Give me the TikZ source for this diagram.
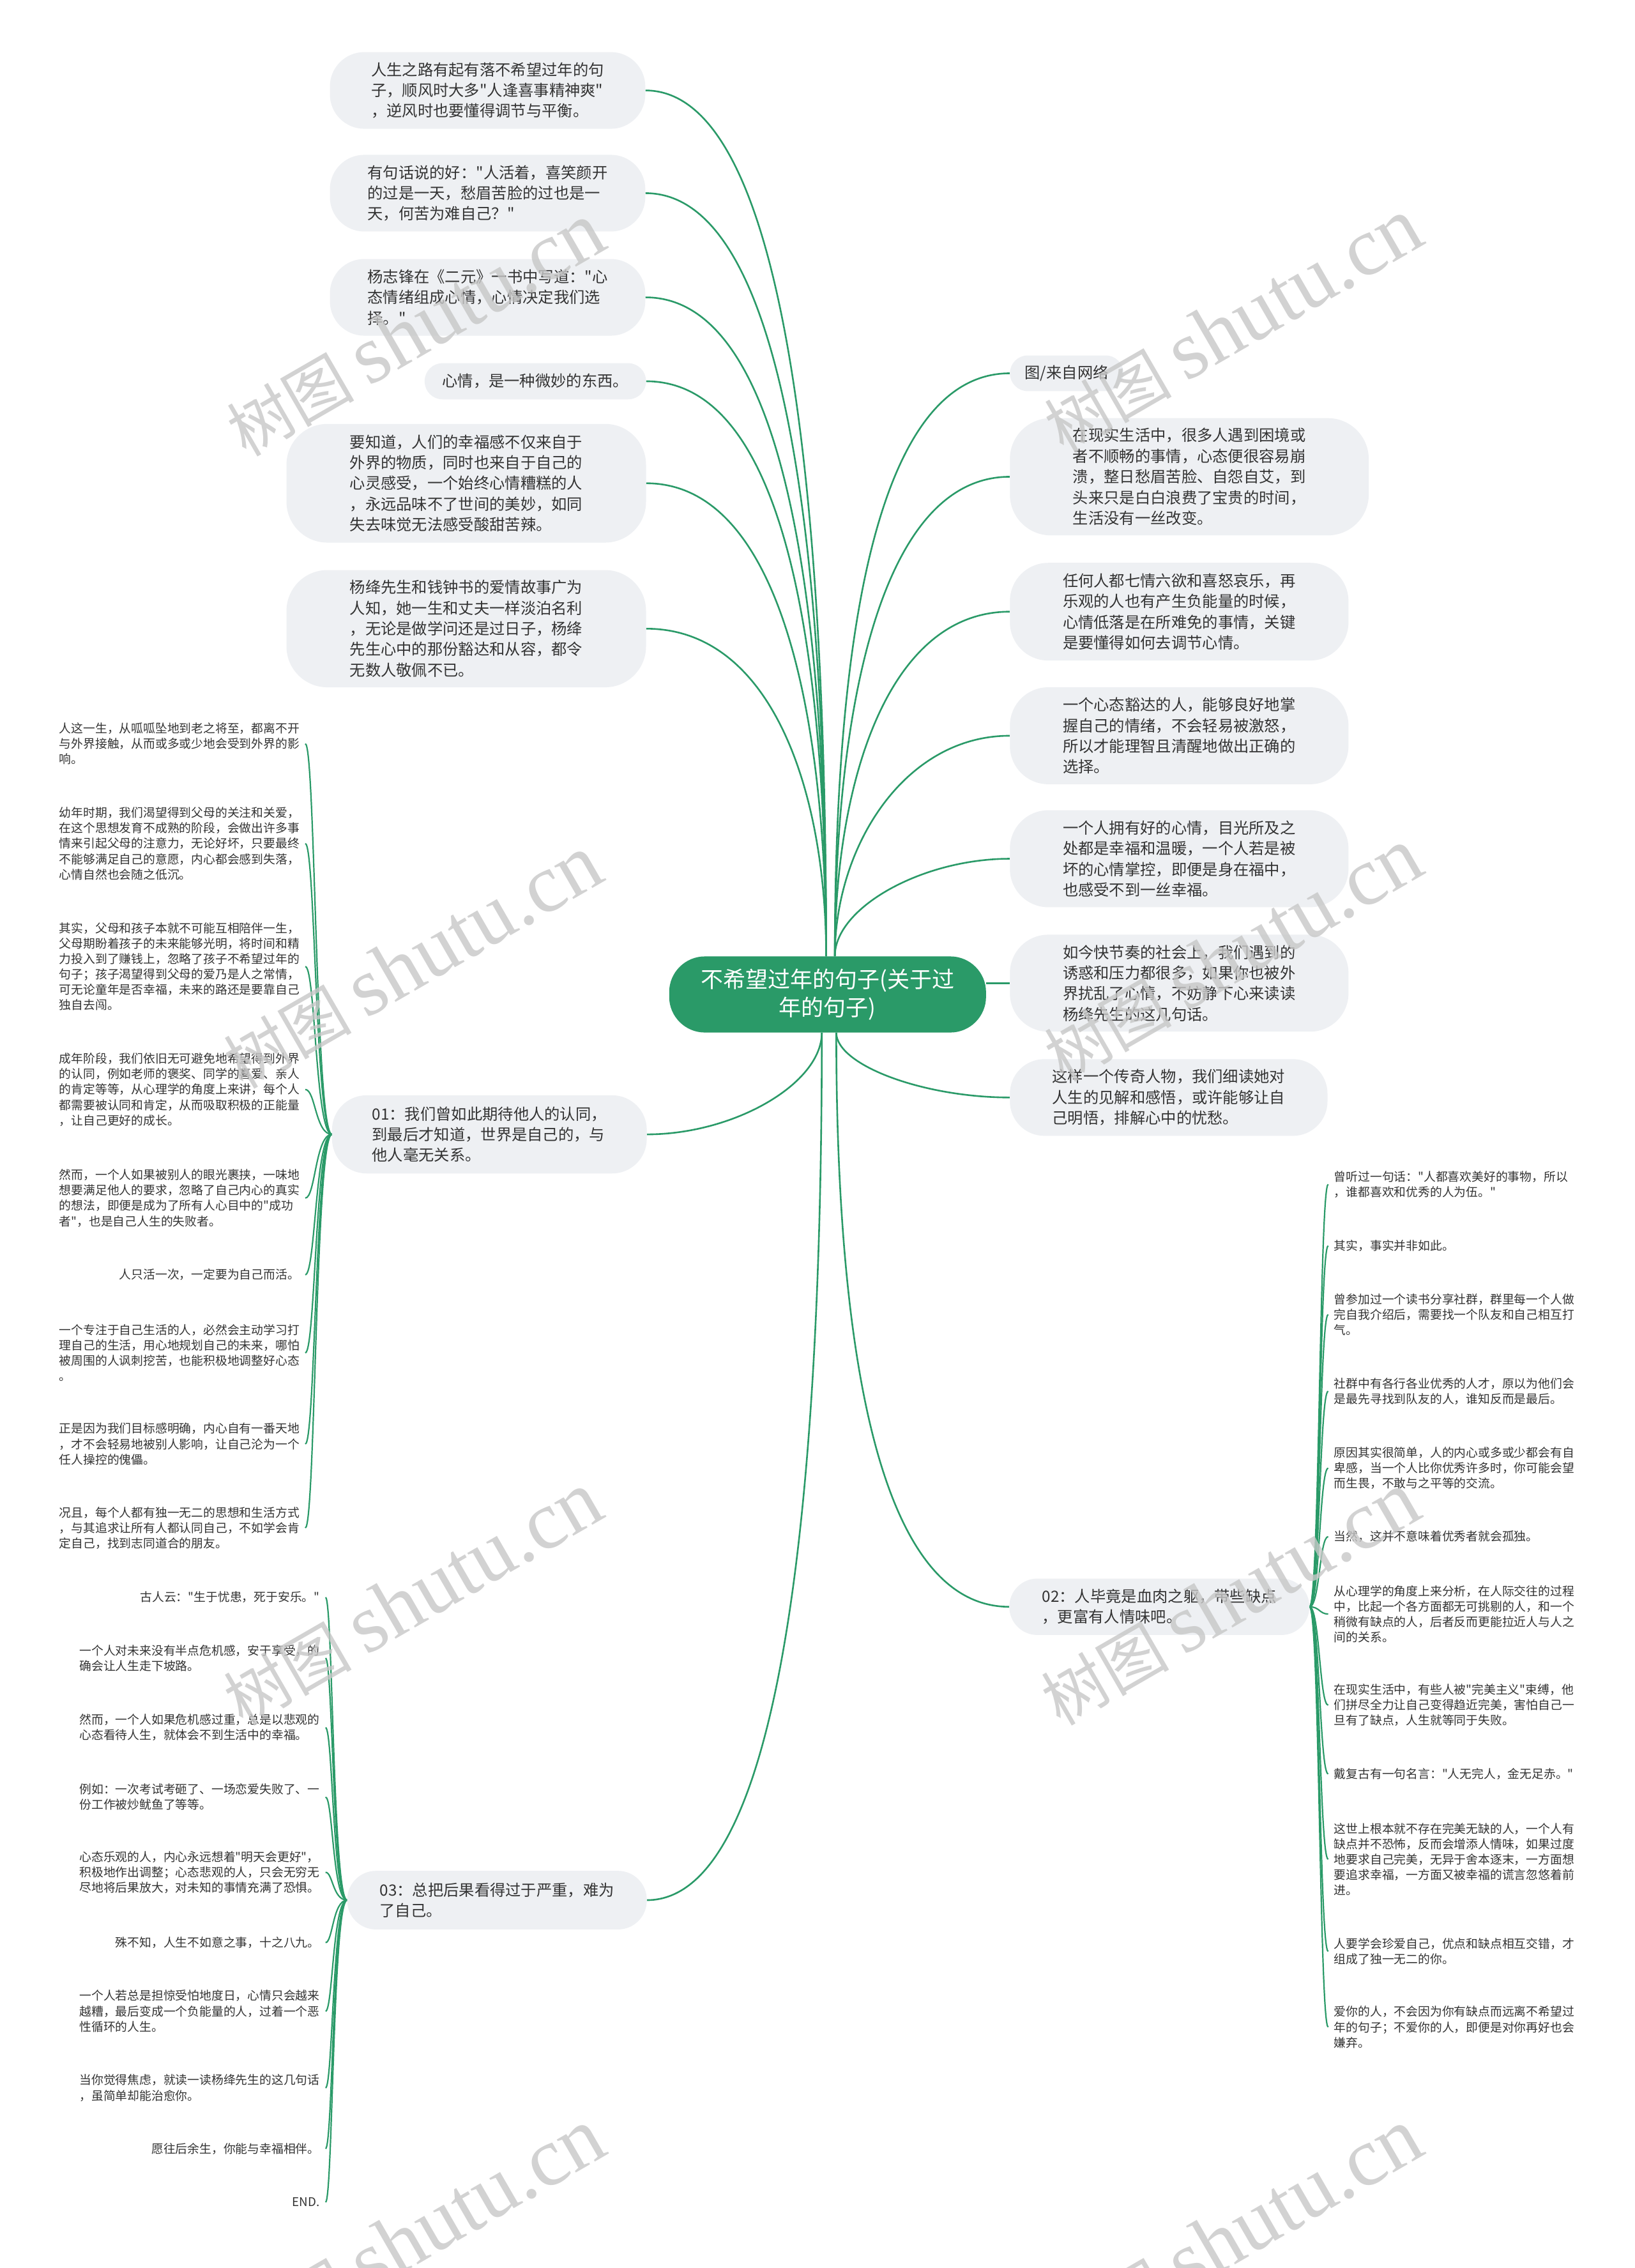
\documentclass[tikz,border=0pt]{standalone}
\usepackage{fontspec}
\newfontfamily\cjk{Noto Sans CJK SC}
\newfontfamily\wmlatin{Liberation Serif}
\usetikzlibrary{calc}
\pgfdeclarelayer{bg}
\pgfsetlayers{bg,main}
\definecolor{mgreen}{HTML}{2A9A68}
\definecolor{boxfill}{HTML}{EEF0F3}
\definecolor{txt}{HTML}{333333}
\newcommand\cedge[3]{\draw[edge] let \p1=(#1), \p2=(#2) in (\p1) .. controls (\x1,{0.5*\y1+0.5*\y2}) and ({\x2+#3*(\x1-\x2)},\y2) .. (\p2);}
\newcommand\ledge[3]{\draw[ledge] let \p1=(#1), \p2=(#2), \p3=(#3) in (\p1) .. controls (\x3,\y1) and (\x3,\y2) .. (\p2);}
\tikzset{
 edge/.style={draw=mgreen, line width=2.6pt},
 ledge/.style={draw=mgreen, line width=2.2pt},
 sz/.style 2 args={minimum width={#1*2.2655pt}, minimum height={#2*2.2655pt}},
 box/.style={fill=boxfill, text=txt, align=left, inner sep=0pt, font=\cjk\fontsize{24.3}{32.4}\selectfont},
 leaf/.style={text=txt, align=left, inner xsep=9pt, inner ysep=1pt, font=\cjk\fontsize{18.8}{24.2}\selectfont},
 leafl/.style={leaf, anchor=east},
 leafr/.style={leaf, anchor=west},
 wm/.style={text=black!22, opacity=0.8, rotate=30, inner sep=0pt},
}
\begin{document}
\begin{tikzpicture}[x=2.2655pt,y=-2.2655pt]
\useasboundingbox (0,0) rectangle (1130,1567.5);
% centre
\node[box, fill=mgreen, text=white, sz={219}{52.6}, rounded corners=56pt, align=center, font=\cjk\fontsize{35}{44}\selectfont] (c) at (572,687.3) {不希望过年的句子(关于过\\年的句子)};
% upper left
\node[box, sz={218}{53}, rounded corners=54pt] (L1) at (337,62.5) {人生之路有起有落不希望过年的句\\子，顺风时大多"人逢喜事精神爽"\\，逆风时也要懂得调节与平衡。};
\node[box, sz={218}{53}, rounded corners=54pt] (L2) at (337,133.5) {有句话说的好："人活着，喜笑颜开\\的过是一天，愁眉苦脸的过也是一\\天，何苦为难自己？"};
\node[box, sz={218}{53}, rounded corners=54pt] (L3) at (337,205.5) {杨志锋在《二元》一书中写道："心\\态情绪组成心情，心情决定我们选\\择。"};
\node[box, sz={153}{25}, rounded corners=28pt] (L4) at (370,263.5) {心情，是一种微妙的东西。};
\node[box, sz={248.5}{82}, rounded corners=64pt] (L5) at (322.25,334) {要知道，人们的幸福感不仅来自于\\外界的物质，同时也来自于自己的\\心灵感受，一个始终心情糟糕的人\\，永远品味不了世间的美妙，如同\\失去味觉无法感受酸甜苦辣。};
\node[box, sz={248.5}{81}, rounded corners=64pt] (L6) at (322.25,434.5) {杨绛先生和钱钟书的爱情故事广为\\人知，她一生和丈夫一样淡泊名利\\，无论是做学问还是过日子，杨绛\\先生心中的那份豁达和从容，都令\\无数人敬佩不已。};
\node[box, sz={217.5}{54}, rounded corners=54pt] (n01) at (338.25,784) {01：我们曾如此期待他人的认同，\\到最后才知道，世界是自己的，与\\他人毫无关系。};
\node[box, sz={207}{40.5}, rounded corners=45pt] (n03) at (343.5,1313.25) {03：总把后果看得过于严重，难为\\了自己。};
% right
\node[box, sz={78.5}{24.7}, rounded corners=28pt] (R1) at (737.25,258) {图/来自网络};
\node[box, sz={248}{81}, rounded corners=64pt] (R2) at (822,329.5) {在现实生活中，很多人遇到困境或\\者不顺畅的事情，心态便很容易崩\\溃，整日愁眉苦脸、自怨自艾，到\\头来只是白白浪费了宝贵的时间，\\生活没有一丝改变。};
\node[box, sz={234}{67.5}, rounded corners=60pt] (R3) at (815,422.75) {任何人都七情六欲和喜怒哀乐，再\\乐观的人也有产生负能量的时候，\\心情低落是在所难免的事情，关键\\是要懂得如何去调节心情。};
\node[box, sz={234}{67}, rounded corners=60pt] (R4) at (815,508.5) {一个心态豁达的人，能够良好地掌\\握自己的情绪，不会轻易被激怒，\\所以才能理智且清醒地做出正确的\\选择。};
\node[box, sz={234}{67}, rounded corners=60pt] (R5) at (815,593.5) {一个人拥有好的心情，目光所及之\\处都是幸福和温暖，一个人若是被\\坏的心情掌控，即便是身在福中，\\也感受不到一丝幸福。};
\node[box, sz={234}{67}, rounded corners=60pt] (R6) at (815,679.5) {如今快节奏的社会上，我们遇到的\\诱惑和压力都很多，如果你也被外\\界扰乱了心情，不妨静下心来读读\\杨绛先生的这几句话。};
\node[box, sz={219.5}{53}, rounded corners=54pt] (R7) at (807.75,758.5) {这样一个传奇人物，我们细读她对\\人生的见解和感悟，或许能够让自\\己明悟，排解心中的忧愁。};
\node[box, sz={207.4}{39}, rounded corners=44pt] (n02) at (801.3,1110.5) {02：人毕竟是血肉之躯，带些缺点\\，更富有人情味吧。};
% leaves of 01
\node[leafl] (a1) at (211,514) {人这一生，从呱呱坠地到老之将至，都离不开\\与外界接触，从而或多或少地会受到外界的影\\响。};
\node[leafl] (a2) at (211,583) {幼年时期，我们渴望得到父母的关注和关爱，\\在这个思想发育不成熟的阶段，会做出许多事\\情来引起父母的注意力，无论好坏，只要最终\\不能够满足自己的意愿，内心都会感到失落，\\心情自然也会随之低沉。};
\node[leafl] (a3) at (211,668) {其实，父母和孩子本就不可能互相陪伴一生，\\父母期盼着孩子的未来能够光明，将时间和精\\力投入到了赚钱上，忽略了孩子不希望过年的\\句子；孩子渴望得到父母的爱乃是人之常情，\\可无论童年是否幸福，未来的路还是要靠自己\\独自去闯。};
\node[leafl] (a4) at (211,753) {成年阶段，我们依旧无可避免地希望得到外界\\的认同，例如老师的褒奖、同学的喜爱、亲人\\的肯定等等，从心理学的角度上来讲，每个人\\都需要被认同和肯定，从而吸取积极的正能量\\，让自己更好的成长。};
\node[leafl] (a5) at (211,828) {然而，一个人如果被别人的眼光裹挟，一味地\\想要满足他人的要求，忽略了自己内心的真实\\的想法，即便是成为了所有人心目中的"成功\\者"，也是自己人生的失败者。};
\node[leafl] (a6) at (211,881) {人只活一次，一定要为自己而活。};
\node[leafl] (a7) at (211,935) {一个专注于自己生活的人，必然会主动学习打\\理自己的生活，用心地规划自己的未来，哪怕\\被周围的人讽刺挖苦，也能积极地调整好心态\\。};
\node[leafl] (a8) at (211,998) {正是因为我们目标感明确，内心自有一番天地\\，才不会轻易地被别人影响，让自己沦为一个\\任人操控的傀儡。};
\node[leafl] (a9) at (211,1056) {况且，每个人都有独一无二的思想和生活方式\\，与其追求让所有人都认同自己，不如学会肯\\定自己，找到志同道合的朋友。};
% leaves of 03
\node[leafl] (b1) at (225,1104) {古人云："生于忧患，死于安乐。"};
\node[leafl] (b2) at (225,1146) {一个人对未来没有半点危机感，安于享受，的\\确会让人生走下坡路。};
\node[leafl] (b3) at (225,1194) {然而，一个人如果危机感过重，总是以悲观的\\心态看待人生，就体会不到生活中的幸福。};
\node[leafl] (b4) at (225,1242) {例如：一次考试考砸了、一场恋爱失败了、一\\份工作被炒鱿鱼了等等。};
\node[leafl] (b5) at (225,1294) {心态乐观的人，内心永远想着"明天会更好"，\\积极地作出调整；心态悲观的人，只会无穷无\\尽地将后果放大，对未知的事情充满了恐惧。};
\node[leafl] (b6) at (225,1342.6) {殊不知，人生不如意之事，十之八九。};
\node[leafl] (b7) at (225,1390) {一个人若总是担惊受怕地度日，心情只会越来\\越糟，最后变成一个负能量的人，过着一个恶\\性循环的人生。};
\node[leafl] (b8) at (225,1443) {当你觉得焦虑，就读一读杨绛先生的这几句话\\，虽简单却能治愈你。};
\node[leafl] (b9) at (225,1485) {愿往后余生，你能与幸福相伴。};
\node[leafl] (b10) at (225,1522) {END.};
% leaves of 02
\node[leafr] (r1) at (918,818.5) {曾听过一句话："人都喜欢美好的事物，所以\\，谁都喜欢和优秀的人为伍。"};
\node[leafr] (r2) at (918,861) {其实，事实并非如此。};
\node[leafr] (r3) at (918,908.5) {曾参加过一个读书分享社群，群里每一个人做\\完自我介绍后，需要找一个队友和自己相互打\\气。};
\node[leafr] (r4) at (918,961.5) {社群中有各行各业优秀的人才，原以为他们会\\是最先寻找到队友的人，谁知反而是最后。};
\node[leafr] (r5) at (918,1014.7) {原因其实很简单，人的内心或多或少都会有自\\卑感，当一个人比你优秀许多时，你可能会望\\而生畏，不敢与之平等的交流。};
\node[leafr] (r6) at (918,1062) {当然，这并不意味着优秀者就会孤独。};
\node[leafr] (r7) at (918,1115.5) {从心理学的角度上来分析，在人际交往的过程\\中，比起一个各方面都无可挑剔的人，和一个\\稍微有缺点的人，后者反而更能拉近人与人之\\间的关系。};
\node[leafr] (r8) at (918,1178.5) {在现实生活中，有些人被"完美主义"束缚，他\\们拼尽全力让自己变得趋近完美，害怕自己一\\旦有了缺点，人生就等同于失败。};
\node[leafr] (r9) at (918,1226) {戴复古有一句名言："人无完人，金无足赤。"};
\node[leafr] (r10) at (918,1285) {这世上根本就不存在完美无缺的人，一个人有\\缺点并不恐怖，反而会增添人情味，如果过度\\地要求自己完美，无异于舍本逐末，一方面想\\要追求幸福，一方面又被幸福的谎言忽悠着前\\进。};
\node[leafr] (r11) at (918,1348.7) {人要学会珍爱自己，优点和缺点相互交错，才\\组成了独一无二的你。};
\node[leafr] (r12) at (918,1401) {爱你的人，不会因为你有缺点而远离不希望过\\年的句子；不爱你的人，即便是对你再好也会\\嫌弃。};
% helper coordinates
\coordinate (ctl) at ($(c.north)+(-1,0)$);
\coordinate (ctr) at ($(c.north)+(5,0)$);
\coordinate (cbl) at ($(c.south)+(-4,0)$);
\coordinate (cbr) at ($(c.south)+(6,0)$);
\coordinate (t01) at (218,0);
\coordinate (t03) at (230,0);
\coordinate (t02) at (912,0);
\begin{pgfonlayer}{bg}
\fill[white] (0,0) rectangle (1130,1567.5);
\cedge{ctl}{L1.east}{0.8}
\cedge{ctl}{L2.east}{0.8}
\cedge{ctl}{L3.east}{0.8}
\cedge{ctl}{L4.east}{0.8}
\cedge{ctl}{L5.east}{0.75}
\cedge{ctl}{L6.east}{0.7}
\cedge{ctr}{R1.west}{0.8}
\cedge{ctr}{R2.west}{0.75}
\cedge{ctr}{R3.west}{0.7}
\cedge{ctr}{R4.west}{0.6}
\cedge{ctr}{R5.west}{0.5}
\draw[edge] (R6.west) -- (R6.west -| c.east);
\cedge{cbl}{n01.east}{0.5}
\cedge{cbl}{n03.east}{0.8}
\cedge{cbr}{R7.west}{0.5}
\cedge{cbr}{n02.west}{0.8}
\foreach \lf in {a1,a2,a3,a4,a5,a6,a7,a8,a9}{\ledge{n01.west}{\lf.east}{t01}}
\foreach \lf in {b1,b2,b3,b4,b5,b6,b7,b8,b9,b10}{\ledge{n03.west}{\lf.east}{t03}}
\foreach \lf in {r1,r2,r3,r4,r5,r6,r7,r8,r9,r10,r11,r12}{\ledge{n02.east}{\lf.west}{t02}}
\end{pgfonlayer}
% watermarks
\foreach \wx/\wy [count=\i] in {287/228, 852/225, 285/665, 852/660, 285/1105, 850/1105, 287/1545, 852/1545}{
  \node[wm] (w\i) at (\wx,\wy) {\cjk\fontsize{100}{100}\selectfont 树图 {\wmlatin\fontsize{130}{130}\selectfont shutu.cn}};
}
\end{tikzpicture}
\end{document}
